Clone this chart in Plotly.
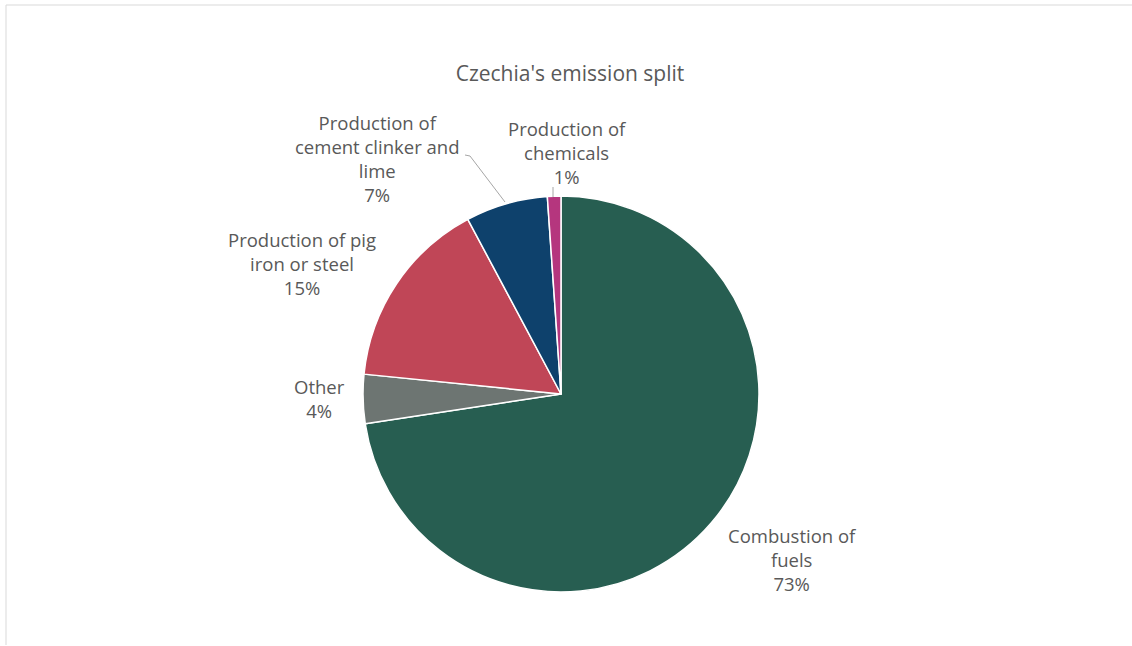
import plotly.graph_objects as go

W, H = 1132, 646

categories = ["Combustion of fuels", "Other", "Production of pig iron or steel",
              "Production of cement clinker and lime", "Production of chemicals"]
values = [72.6, 4.0, 15.6, 6.7, 1.1]
pct_labels = ["73%", "4%", "15%", "7%", "1%"]
label_lines = [["Combustion of", "fuels"], ["Other"], ["Production of pig", "iron or steel"],
               ["Production of", "cement clinker and", "lime"], ["Production of", "chemicals"]]
colors = ["#275E51", "#6D7572", "#C04657", "#0E416C", "#B5367E"]

# label block centre positions (pixels)
label_pos = [(792, 559), (319, 398.5), (302, 263), (377, 159), (567, 152)]

def px(x):
    return x / W

def py(y):
    return 1 - y / H

cx, cy, r = 561, 394, 198

FONT = "'Open Sans', 'Noto Sans', sans-serif"

fig = go.Figure()
fig.add_trace(go.Pie(
    labels=categories,
    values=values,
    marker=dict(colors=colors, line=dict(color="white", width=1.5)),
    sort=False,
    direction="clockwise",
    rotation=0,
    textinfo="none",
    hoverinfo="label+percent",
    showlegend=False,
    domain=dict(x=[px(cx - r), px(cx + r)], y=[py(cy + r), py(cy - r)]),
))

font = dict(family=FONT, size=18.5, color="#595959")
for (x, y), lines, p in zip(label_pos, label_lines, pct_labels):
    fig.add_annotation(x=px(x), y=py(y), xref="paper", yref="paper",
                       text="<br>".join(lines + [p]), showarrow=False, font=font,
                       align="center", borderpad=0,
                       xanchor="center", yanchor="middle")

shapes = [
    # border
    dict(type="line", xref="paper", yref="paper", x0=px(6), y0=py(645), x1=px(6), y1=py(5),
         line=dict(color="#D9D9D9", width=1)),
    dict(type="line", xref="paper", yref="paper", x0=px(6), y0=py(5), x1=px(1132), y1=py(5),
         line=dict(color="#D9D9D9", width=1)),
    # leader lines
    dict(type="path", xref="paper", yref="paper",
         path=f"M {px(465)} {py(155)} L {px(470)} {py(156)} L {px(505)} {py(202)}",
         line=dict(color="#A6A6A6", width=1)),
    dict(type="line", xref="paper", yref="paper", x0=px(553), y0=py(187), x1=px(553), y1=py(197),
         line=dict(color="#A6A6A6", width=1)),
]

fig.update_layout(
    width=W, height=H,
    margin=dict(l=0, r=0, t=0, b=0),
    paper_bgcolor="white",
    plot_bgcolor="white",
    shapes=shapes,
    title=dict(text="Czechia's emission split", x=px(570), y=py(74), xanchor="center",
               yanchor="middle", font=dict(family=FONT, size=21, color="#595959")),
)

fig.write_html("out.html", config={"displayModeBar": False},
               post_script="document.body.style.margin='0';")
